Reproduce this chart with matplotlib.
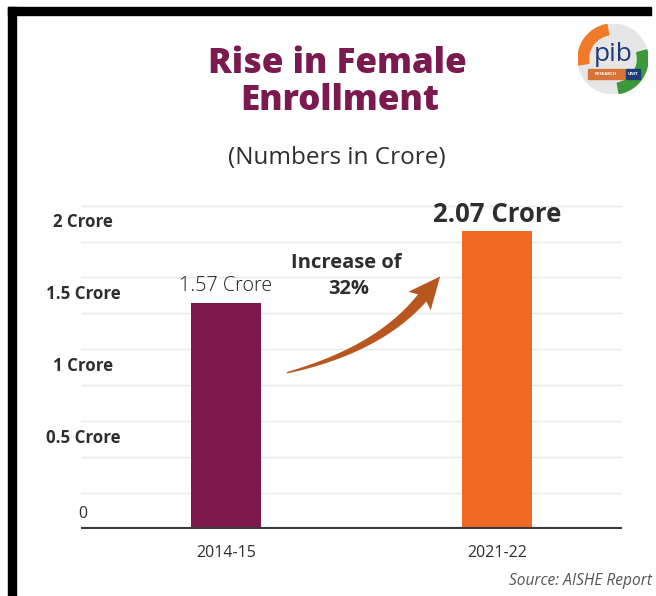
import matplotlib
matplotlib.use("Agg")
import matplotlib.pyplot as plt
from matplotlib.patches import Rectangle, Circle, Wedge, Polygon
import numpy as np

plt.rcParams['font.family'] = ['Open Sans', 'DejaVu Sans']

# ---- data ----
years = ["2014-15", "2021-22"]
enrollment = [1.57, 2.07]          # crore
bar_labels = ["1.57 Crore", "2.07 Crore"]
ytick_values = [0, 0.5, 1, 1.5, 2]
ytick_labels = ["0", "0.5 Crore", "1 Crore", "1.5 Crore", "2 Crore"]
grid_values = np.arange(0.25, 2.26, 0.25)
increase_lines = ["Increase of", "32%"]
title_lines = ["Rise in Female", "Enrollment"]
subtitle = "(Numbers in Crore)"
source = "Source: AISHE Report"

bar_colors = ["#7d184b", "#f06a25"]
title_color = "#7b1a4f"
text_color = "#2e2e2e"
arrow_color = "#b8561f"

W, H = 656, 596
fig = plt.figure(figsize=(W / 100, H / 100), dpi=100)
fig.patch.set_facecolor("white")


def fx(px):
    return px / W


def fy(py):
    return 1 - py / H


# frame bands (top and left)
fig.add_artist(Rectangle((fx(8), fy(15)), fx(651) - fx(8), fy(7) - fy(15),
                         transform=fig.transFigure, color="black", zorder=0))
fig.add_artist(Rectangle((fx(8), 0), fx(16) - fx(8), fy(7),
                         transform=fig.transFigure, color="black", zorder=0))

# ---- plot area ----
base_px = 528.5
px_per_unit = 143.5
ymax = 2.3
ax_left, ax_right = 81, 622
ax = fig.add_axes([fx(ax_left), 1 - base_px / H, (ax_right - ax_left) / W,
                   ymax * px_per_unit / H])
ax.set_facecolor("none")
ax.set_xlim(-0.535, 1.461)
ax.set_ylim(0, ymax)
for s in ax.spines.values():
    s.set_visible(False)
ax.set_xticks([])
ax.set_yticks([])

for g in grid_values:
    ax.axhline(g, color="#e9e9e9", lw=1.0, zorder=0)

x = np.arange(len(years))
ax.bar(x, enrollment, width=0.255, color=bar_colors, zorder=2)
ax.axhline(0, color="#3a3a3a", lw=3.0, solid_capstyle="butt", zorder=3)

# value labels above bars
ax.annotate(bar_labels[0], (x[0], enrollment[0]), xytext=(0, 12.5),
            textcoords="offset points", ha="center", va="center",
            fontsize=14.2, fontweight="light", color="#1f1f1f")
ax.annotate(bar_labels[1], (x[1], enrollment[1]), xytext=(0, 12.5),
            textcoords="offset points", ha="center", va="center",
            fontsize=18.5, fontweight="bold", color=text_color)

# category labels
for xi, lab in zip(x, years):
    ax.annotate(lab, (xi, 0), xytext=(0, -17.5), textcoords="offset points",
                ha="center", va="center", fontsize=11.5, color=text_color)

# y labels sit just above their gridline values
ytr = ax.get_yaxis_transform()
for v, lab in zip(ytick_values, ytick_labels):
    if v == 0:
        ax.annotate(lab, (2 / (ax_right - ax_left), v), xycoords=ytr,
                    xytext=(0, 10.4), textcoords="offset points",
                    ha="center", va="center", fontsize=11.5, color=text_color)
    else:
        ax.annotate(lab, (2 / (ax_right - ax_left), v), xycoords=ytr,
                    xytext=(0, 13.7), textcoords="offset points",
                    ha="center", va="center", fontsize=12.2,
                    fontweight="bold", color=text_color)


# ---- tapered growth arrow ----
def tapered_arrow(axis, start, end, start_angle, end_angle, w0, w1,
                  head_len, head_w, color):
    to_px = axis.transData.transform
    to_data = axis.transData.inverted().transform
    p0 = np.array(to_px(start))
    tip = np.array(to_px(end))
    d_end = np.array([np.cos(np.radians(end_angle)), np.sin(np.radians(end_angle))])
    d_start = np.array([np.cos(np.radians(start_angle)), np.sin(np.radians(start_angle))])
    base = tip - head_len * d_end
    # control point where the start and end tangents meet
    A = np.column_stack([d_start, d_end])
    t, s = np.linalg.solve(A, base - p0)
    ctrl = p0 + t * d_start
    ts = np.linspace(0, 1, 60)
    pts = ((1 - ts) ** 2)[:, None] * p0 + (2 * (1 - ts) * ts)[:, None] * ctrl \
        + (ts ** 2)[:, None] * base
    der = (2 * (1 - ts))[:, None] * (ctrl - p0) + (2 * ts)[:, None] * (base - ctrl)
    der /= np.linalg.norm(der, axis=1)[:, None]
    nrm = np.column_stack([-der[:, 1], der[:, 0]])
    w = (w0 + (w1 - w0) * ts ** 0.8)[:, None] / 2
    left = pts + nrm * w
    right = pts - nrm * w
    n_end = np.array([-d_end[1], d_end[0]])
    head = [base + n_end * head_w / 2 - d_end * 4, tip, base - n_end * head_w / 2 - d_end * 4]
    outline = np.vstack([left, [base + n_end * w1 / 2], head,
                         [base - n_end * w1 / 2], right[::-1]])
    axis.add_patch(Polygon(to_data(outline), closed=True, color=color,
                           zorder=4, lw=0))


fig.canvas.draw()
tapered_arrow(ax, (0.224, 1.085), (0.790, 1.756), 14, 50,
              1.2, 11.0, 28, 29, arrow_color)

ax.text(0.443, 1.853, increase_lines[0], ha="center", va="center",
        fontsize=14.5, fontweight="bold", color=text_color)
ax.text(0.451, 1.672, increase_lines[1], ha="center", va="center",
        fontsize=14.5, fontweight="bold", color=text_color)

# ---- titles ----
fig.text(fx(337), fy(73), title_lines[0], ha="center", va="baseline",
         fontsize=25.2, fontweight="heavy", color=title_color)
fig.text(fx(340), fy(110), title_lines[1], ha="center", va="baseline",
         fontsize=25.2, fontweight="heavy", color=title_color)
fig.text(fx(337), fy(158), subtitle, ha="center", va="center", fontsize=17.5,
         color=text_color)
fig.text(fx(652), fy(581), source, ha="right", va="center", fontsize=11.2,
         style="italic", color="#555555")

# ---- emblem ----
lax = fig.add_axes([fx(578), fy(94), 70 / W, 70 / H])
lax.set_xlim(-1, 1)
lax.set_ylim(-1, 1)
lax.set_aspect("equal")
lax.axis("off")
lax.add_patch(Circle((0, 0), 1, color="#e6e6e6"))
lax.add_patch(Wedge((0, 0), 1, 100, 190, width=0.3, color="#f07a2a"))
lax.add_patch(Wedge((0, 0), 1, 280, 15, width=0.3, color="#3a9a3a"))
lax.text(0, 0.12, "pib", ha="center", va="center", fontsize=19,
         color="#1f3a78")
lax.add_patch(Rectangle((-0.72, -0.58), 1.05, 0.28, color="#d8743a"))
lax.add_patch(Rectangle((0.36, -0.58), 0.42, 0.28, color="#1f3a78"))
lax.text(-0.2, -0.44, "RESEARCH", ha="center", va="center", fontsize=3.2,
         color="white", fontweight="bold")
lax.text(0.57, -0.44, "UNIT", ha="center", va="center", fontsize=3.2,
         color="white", fontweight="bold")

fig.savefig("out.png", dpi=100)
